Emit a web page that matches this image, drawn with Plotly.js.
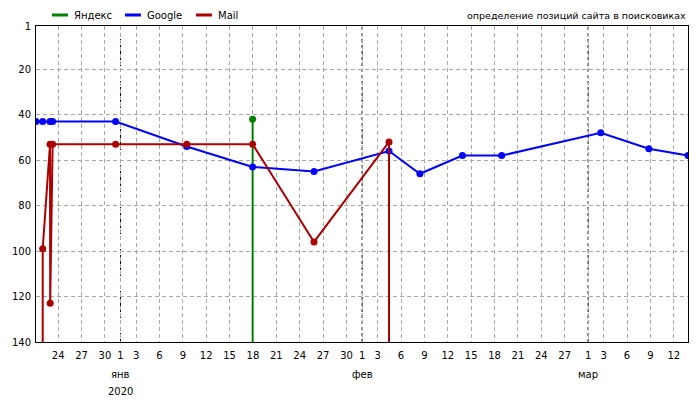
<!DOCTYPE html>
<html><head><meta charset="utf-8">
<script src="https://cdn.plot.ly/plotly-3.0.1.min.js"></script>
<style>html,body{margin:0;padding:0;background:#fff}#chart{width:700px;height:400px}</style>
</head><body><div id="chart"></div>
<script>
const SERIES_NAMES = ['Яндекс', 'Google', 'Mail'];
const SERIES_COLORS = ['#008000', '#0000ff', '#aa0000'];

const YANDEX_DATES = ['2020-01-17 23:00', '2020-01-17 23:00'];
const YANDEX_VALUES = [42, 200];

const GOOGLE_DATES = ['2019-12-21 03:50', '2019-12-22 00:30', '2019-12-22 23:00', '2019-12-23 07:00',
  '2019-12-31 09:00', '2020-01-09 12:00', '2020-01-17 23:00', '2020-01-25 20:00', '2020-02-04 11:00',
  '2020-02-08 10:00', '2020-02-13 21:00', '2020-02-18 22:00', '2020-03-02 15:00', '2020-03-08 19:00',
  '2020-03-13 19:40'];
const GOOGLE_VALUES = [43, 43, 43, 43, 43, 54, 63, 65, 56, 66, 58, 58, 48, 55, 58];

const MAIL_DATES = ['2019-12-22 00:30', '2019-12-22 00:30', '2019-12-22 23:00', '2019-12-22 23:30',
  '2019-12-23 07:00', '2019-12-31 09:00', '2020-01-09 12:00', '2020-01-17 23:00', '2020-01-25 20:00',
  '2020-02-04 11:00', '2020-02-04 11:00'];
const MAIL_VALUES = [200, 99, 53, 123, 53, 53, 53, 53, 96, 52, 200];

const TICK_DATES = ['2019-12-24', '2019-12-27', '2019-12-30',
  '2020-01-01', '2020-01-03', '2020-01-06', '2020-01-09', '2020-01-12', '2020-01-15', '2020-01-18',
  '2020-01-21', '2020-01-24', '2020-01-27', '2020-01-30',
  '2020-02-01', '2020-02-03', '2020-02-06', '2020-02-09', '2020-02-12', '2020-02-15', '2020-02-18',
  '2020-02-21', '2020-02-24', '2020-02-27',
  '2020-03-01', '2020-03-03', '2020-03-06', '2020-03-09', '2020-03-12'];
const TICK_LABELS = TICK_DATES.map(d => String(parseInt(d.slice(8), 10)));

const MONTH_DATES = ['2020-01-01', '2020-02-01', '2020-03-01'];
const MONTH_LABELS = ['янв', 'фев', 'мар'];
const YEAR_DATE = '2020-01-01';
const YEAR_LABEL = '2020';

const Y_TICKS = [1, 20, 40, 60, 80, 100, 120, 140];
const TITLE = 'определение позиций сайта в поисковиках';

const FONT = {family: 'DejaVu Sans, Verdana, sans-serif', size: 10, color: '#000'};
const TITLE_FONT = {family: 'DejaVu Sans, Verdana, sans-serif', size: 9.5, color: '#000'};
const L = 36, R = 688.3, T = 26, B = 342;
const px2x = p => (p - L) / (R - L);
const legendY = 1 + (T - 15) / (B - T);

const seriesDates = [YANDEX_DATES, GOOGLE_DATES, MAIL_DATES];
const seriesValues = [YANDEX_VALUES, GOOGLE_VALUES, MAIL_VALUES];

const traces = SERIES_NAMES.map((name, i) => ({
  type: 'scatter', mode: 'lines+markers', name: name,
  x: seriesDates[i], y: seriesValues[i],
  line: {color: SERIES_COLORS[i], width: 2},
  marker: {color: SERIES_COLORS[i], size: 7},
  cliponaxis: true, showlegend: false
}));

const allDates = [].concat(...seriesDates).slice().sort();
const xRange = [allDates[0], allDates[allDates.length - 1]];

const shapes = [];
MONTH_DATES.forEach(d => {
  shapes.push({type: 'line', xref: 'x', yref: 'paper', x0: d, x1: d, y0: 0, y1: 1,
    line: {color: '#ffffff', width: 1}, layer: 'between'});
  shapes.push({type: 'line', xref: 'x', yref: 'paper', x0: d, x1: d, y0: 0, y1: 1,
    line: {color: '#000000', width: 1, dash: '3px,3px'}, layer: 'between'});
});

const LEGEND_LINE_PX = [[52, 68], [125, 141], [196, 212]];
const LEGEND_TEXT_PX = [72, 145, 216];
SERIES_NAMES.forEach((n, i) => {
  shapes.push({type: 'line', xref: 'paper', yref: 'paper',
    x0: px2x(LEGEND_LINE_PX[i][0]), x1: px2x(LEGEND_LINE_PX[i][1]), y0: legendY, y1: legendY,
    line: {color: SERIES_COLORS[i], width: 3}});
});

const annotations = [];
SERIES_NAMES.forEach((n, i) => {
  annotations.push({text: n, xref: 'paper', yref: 'paper', x: px2x(LEGEND_TEXT_PX[i]), y: legendY,
    xanchor: 'left', yanchor: 'middle', showarrow: false, font: FONT});
});
annotations.push({text: TITLE, xref: 'paper', yref: 'paper', x: 1, y: legendY,
  xanchor: 'right', yanchor: 'middle', showarrow: false, font: TITLE_FONT});
MONTH_DATES.forEach((d, i) => {
  annotations.push({text: MONTH_LABELS[i], xref: 'x', yref: 'paper', x: d, y: 0,
    xanchor: 'center', yanchor: 'middle', yshift: -32, showarrow: false, font: FONT});
});
annotations.push({text: YEAR_LABEL, xref: 'x', yref: 'paper', x: YEAR_DATE, y: 0,
  xanchor: 'center', yanchor: 'middle', yshift: -49, showarrow: false, font: FONT});

const layout = {
  width: 700, height: 400,
  margin: {l: L, r: 700 - R, t: T, b: 400 - B, pad: 0},
  paper_bgcolor: '#fff', plot_bgcolor: '#fff',
  font: FONT,
  xaxis: {type: 'date', range: xRange, autorange: false,
    tickmode: 'array', tickvals: TICK_DATES, ticktext: TICK_LABELS,
    showgrid: true, gridcolor: '#a8a8a8', griddash: '4px,3px', gridwidth: 1,
    showline: true, mirror: true, linecolor: '#000', linewidth: 1,
    ticks: '', zeroline: false, tickfont: FONT, ticklabelstandoff: 4},
  yaxis: {range: [140, 1], autorange: false,
    tickmode: 'array', tickvals: Y_TICKS,
    showgrid: true, gridcolor: '#a8a8a8', griddash: '4px,3px', gridwidth: 1,
    showline: true, mirror: true, linecolor: '#000', linewidth: 1,
    ticks: '', zeroline: false, tickfont: FONT, ticklabelstandoff: 2},
  shapes: shapes, annotations: annotations, showlegend: false
};

Plotly.newPlot('chart', traces, layout, {staticPlot: true, displayModeBar: false});
</script>
</body></html>
